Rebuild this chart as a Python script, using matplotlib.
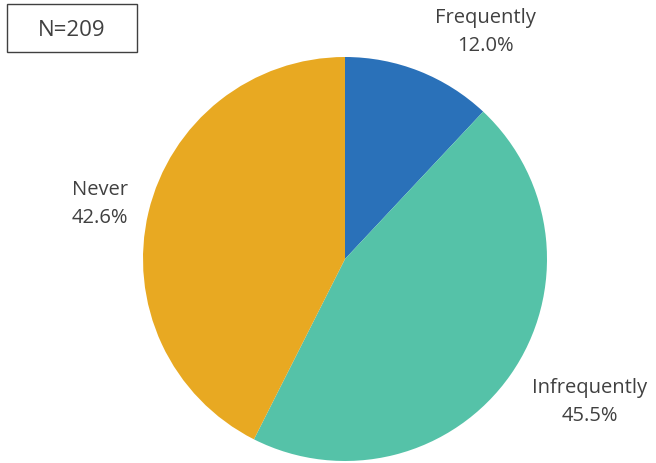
import matplotlib
matplotlib.use("Agg")
import matplotlib.pyplot as plt
from matplotlib.patches import Rectangle

labels = ["Frequently", "Infrequently", "Never"]
shares = [12.0, 45.5, 42.6]
colors = ["#2A71B9", "#55C2A8", "#E8A922"]
n_total = 209

W, H = 656, 464
fig = plt.figure(figsize=(W / 100, H / 100), dpi=100)
ax = fig.add_axes([143 / W, 2 / H, 404 / W, 404 / H])
ax.pie(shares, colors=colors, startangle=90, counterclock=False,
       radius=1.0, wedgeprops=dict(linewidth=0))
ax.set_xlim(-1, 1)
ax.set_ylim(-1, 1)
ax.set_aspect("equal")

# label positions in figure pixels (x, y from top)
label_pos = [(485, 32), (590, 402), (100, 204)]
txt_color = "#404040"
for lab, val, (px, py) in zip(labels, shares, label_pos):
    fig.text(px / W, 1 - py / H, f"{lab}\n{val:.1f}%", ha="center", va="center",
             fontsize=14.5, color=txt_color, family="Open Sans", linespacing=1.5)

# N box
fig.add_artist(Rectangle((7 / W, 1 - 53 / H), 130 / W, 48 / H, transform=fig.transFigure,
                         facecolor="white", edgecolor="#404040", linewidth=1))
fig.text(72 / W, 1 - 30 / H, f"N={n_total}", ha="center", va="center",
         fontsize=16, color=txt_color, family="Open Sans")

fig.savefig("out.png", dpi=100)
